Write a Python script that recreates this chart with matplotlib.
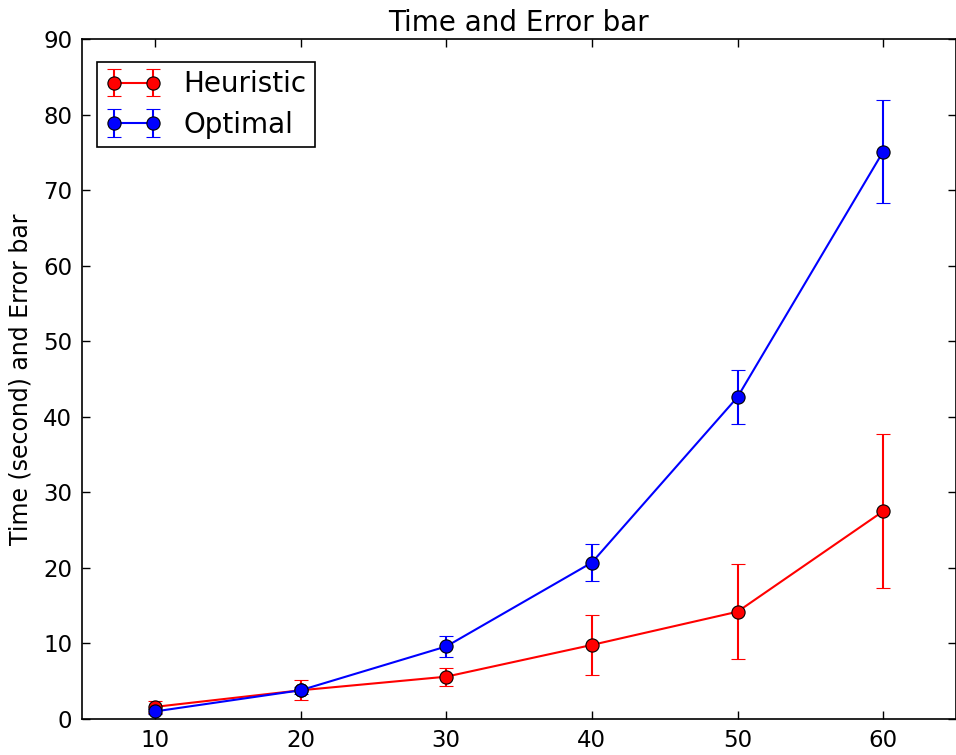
import numpy as np
import matplotlib
matplotlib.use('Agg')
from matplotlib import pyplot as plt

sizes = [10, 20, 30, 40, 50, 60]
heuristic = [1.6, 3.8, 5.6, 9.8, 14.2, 27.5]
heuristic_err = [0.8, 1.3, 1.2, 4.0, 6.3, 10.2]
optimal = [1.0, 3.8, 9.6, 20.7, 42.6, 75.1]
optimal_err = [0.3, 0.5, 1.45, 2.4, 3.6, 6.8]

plt.rcParams['font.family'] = 'DejaVu Sans'
plt.rcParams['xtick.direction'] = 'in'
plt.rcParams['ytick.direction'] = 'in'

fig = plt.figure(figsize=(9.56, 7.55), dpi=100)
ax = fig.add_axes([82/956, 36/755, (956-82)/956, (719-39)/755])

ax.errorbar(sizes, heuristic, yerr=heuristic_err, color='red', marker='o',
            markersize=9.5, markeredgecolor='black', markeredgewidth=0.8,
            linewidth=1.5, capsize=5, elinewidth=1.5, capthick=1.5,
            label='Heuristic')
ax.errorbar(sizes, optimal, yerr=optimal_err, color='blue', marker='o',
            markersize=9.5, markeredgecolor='black', markeredgewidth=0.8,
            linewidth=1.5, capsize=5, elinewidth=1.5, capthick=1.5,
            label='Optimal')

ax.set_xlim(5, 65)
ax.set_ylim(0, 90)
ax.set_xticks([10, 20, 30, 40, 50, 60])
ax.set_yticks(np.arange(0, 91, 10))
ax.tick_params(axis='both', which='both', top=True, right=True, labelsize=16.5,
               length=6, width=1, pad=7)
for s in ax.spines.values():
    s.set_linewidth(1.2)

ax.set_title('Time and Error bar', fontsize=20, pad=6)
ax.set_ylabel('Time (second) and Error bar', fontsize=17, labelpad=8)

# legend box placed where the reference has it
leg = ax.legend(loc='upper left', bbox_to_anchor=(15/874, 657/680),
                borderaxespad=0, numpoints=2, fontsize=20, fancybox=False,
                framealpha=1, edgecolor='black', borderpad=0.3,
                handlelength=2.0, labelspacing=0.45)
leg.get_frame().set_linewidth(1.2)

fig.savefig('out.png', dpi=100)
